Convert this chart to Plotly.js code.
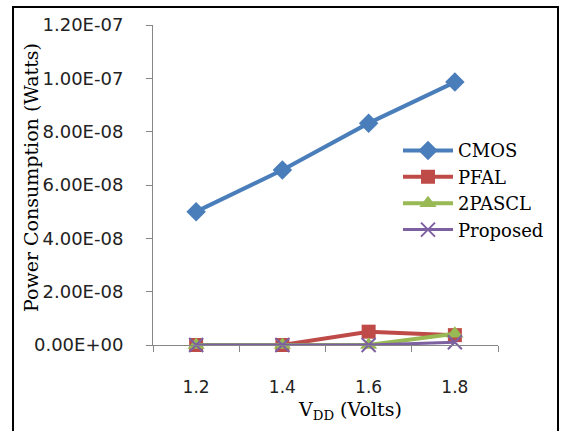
<!DOCTYPE html>
<html><head><meta charset="utf-8">
<script src="https://cdn.plot.ly/plotly-3.0.1.min.js"></script>
<style>
html,body{margin:0;padding:0;background:#fff;}
#wrap{position:relative;width:561px;height:431px;overflow:hidden;}
#chart{position:absolute;left:0;top:0;width:561px;height:431px;}
#frame{position:absolute;left:12px;top:6px;width:543px;height:440px;border:2px solid #000;pointer-events:none;}
</style></head>
<body><div id="wrap"><div id="chart"></div><div id="frame"></div></div>
<script>
const vdd = ['1.2', '1.4', '1.6', '1.8'];
const cmos = [5.0e-8, 6.56e-8, 8.32e-8, 9.86e-8];
const pfal = [0, 0, 5.0e-9, 3.7e-9];
const pascl2 = [0, 0, 0, 4.2e-9];
const proposed = [0, 0, 0, 1.0e-9];
const yTicks = [0, 2e-8, 4e-8, 6e-8, 8e-8, 1e-7, 1.2e-7];
const yTickText = ['0.00E+00', '2.00E-08', '4.00E-08', '6.00E-08', '8.00E-08', '1.00E-07', '1.20E-07'];

const mk = (name, y, color, symbol, size, lw) => ({
  x: vdd, y: y, name: name, type: 'scatter', mode: 'lines+markers', cliponaxis: false,
  line: {color: color, width: 4},
  marker: {color: color, symbol: symbol, size: size, line: {color: color, width: lw}}
});
const traces = [
  mk('CMOS', cmos, '#4A7EBB', 'diamond', 15, 0),
  mk('PFAL', pfal, '#BE4B48', 'square', 14, 0),
  mk('2PASCL', pascl2, '#98B954', 'triangle-up', 15, 0),
  mk('Proposed', proposed, '#7D60A0', 'x-thin-open', 14, 2)
];
traces[3].line.width = 3;

const layout = {
  width: 561, height: 431,
  margin: {l: 153, r: 63, t: 25, b: 86},
  paper_bgcolor: '#fff', plot_bgcolor: '#fff',
  showlegend: true,
  legend: {x: (398 - 153) / 345, y: 0.665, xanchor: 'left', yanchor: 'top', itemwidth: 50,
    font: {family: 'DejaVu Serif', size: 18, color: '#000'}, bgcolor: 'rgba(0,0,0,0)', tracegroupgap: 0},
  xaxis: {type: 'category', range: [-0.5, 3.5], showline: true, linecolor: '#868686', linewidth: 1,
    ticks: 'outside', tickson: 'boundaries', ticklen: 6, tickcolor: '#868686', showgrid: false, zeroline: false,
    tickfont: {family: 'DejaVu Sans', size: 17, color: '#222'}, ticklabelstandoff: 27, fixedrange: true},
  yaxis: {range: [0, 1.2e-7], tickvals: yTicks, ticktext: yTickText, showline: true, linecolor: '#868686', linewidth: 1,
    ticks: 'outside', ticklen: 6, tickcolor: '#868686', showgrid: false, zeroline: false,
    tickfont: {family: 'DejaVu Sans', size: 18, color: '#222'}, ticklabelstandoff: 19, fixedrange: true},
  annotations: [
    {xref: 'paper', yref: 'paper', x: (350 - 153) / 345, y: -(410 - 345) / 320, xanchor: 'center', yanchor: 'middle',
     text: 'V<sub>DD</sub> (Volts)', showarrow: false, font: {family: 'DejaVu Serif', size: 19, color: '#000'}},
    {xref: 'paper', yref: 'paper', x: (31 - 153) / 345, y: (345 - 178) / 320, xanchor: 'center', yanchor: 'middle',
     text: 'Power Consumption (Watts)', textangle: -90, showarrow: false, font: {family: 'DejaVu Serif', size: 19, color: '#000'}}
  ]
};
Plotly.newPlot('chart', traces, layout, {displayModeBar: false, staticPlot: true});
</script></body></html>
